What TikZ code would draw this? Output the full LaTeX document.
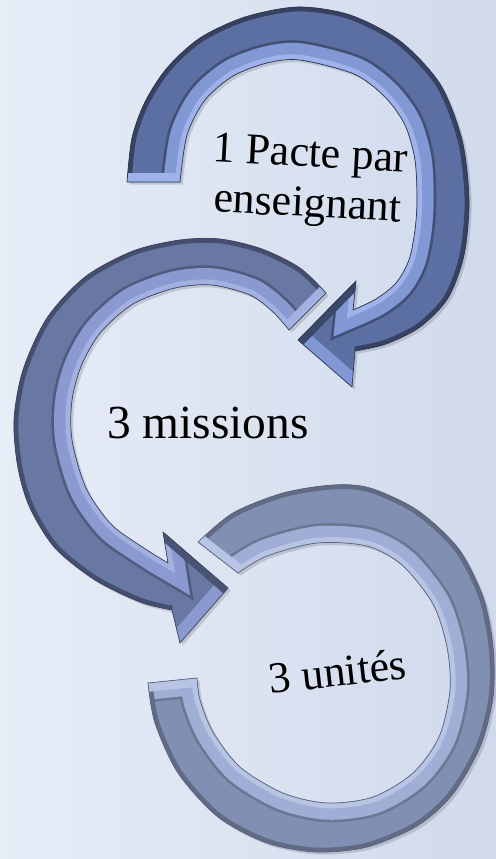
\documentclass[tikz,border=0pt]{standalone}
\usepackage{fontspec}
\setmainfont{Liberation Serif}

\definecolor{bgleft}{HTML}{E7EDF7}
\definecolor{bgright}{HTML}{D0DAEC}
\definecolor{pactebase}{HTML}{5B6FA2}
\definecolor{pactelight}{HTML}{8198D5}
\definecolor{pactelighter}{HTML}{9FB3EA}
\definecolor{pactedark}{HTML}{2E3752}
\definecolor{missionbase}{HTML}{6878A3}
\definecolor{missionlight}{HTML}{8A9AD0}
\definecolor{missionlighter}{HTML}{A2B1E0}
\definecolor{missiondark}{HTML}{3C4461}
\definecolor{unitebase}{HTML}{8190B2}
\definecolor{unitelight}{HTML}{A0AED6}
\definecolor{unitelighter}{HTML}{B8C4E4}
\definecolor{unitedark}{HTML}{5A627A}

% edges of the three arrows
\newcommand{\pacteouter}{plot[smooth] coordinates {(127,182) (132,138) (145,102) (167,68) (200,38) (245,17) (298,7) (350,15) (400,41) (440,84) (462,140) (469,200) (464,255) (448,298) (420,327) (386,344) (355,351)}}
\newcommand{\pacteinner}{-- plot[smooth] coordinates {(353,310) (376,299) (396,283) (409,260) (415,230) (417,200) (415,160) (405,125) (385,97) (354,74) (300,60) (267,63) (233,76) (205,100) (187,135) (180,182)}}
\newcommand{\pacteshape}{\pacteouter -- (352,387) -- (298,340) -- (356,281) \pacteinner -- cycle}

\newcommand{\missionouter}{plot[smooth] coordinates {(326,293) (300,268) (262,249) (220,239) (180,240) (133,251) (85,277) (47,318) (23,370) (14,420) (18,468) (30,508) (55,548) (95,580) (140,602) (172,610)}}
\newcommand{\missioninner}{-- plot[smooth] coordinates {(168,563) (147,550) (112,525) (86,488) (72,440) (72,400) (82,364) (101,332) (133,304) (175,288) (212,285) (250,295) (273,312) (289,330)}}
\newcommand{\missionshape}{\missionouter -- (180,643) -- (228,588) -- (163,532) \missioninner -- cycle}

\newcommand{\uniteouter}{plot[smooth] coordinates {(198,542) (233,513) (283,493) (333,485) (370,488) (417,510) (458,548) (483,597) (493,647) (493,697) (480,747) (452,795) (417,826) (367,847) (317,852) (267,843) (218,817) (178,773) (155,723) (148,683)}}
\newcommand{\uniteinner}{-- plot[smooth] coordinates {(197,678) (200,700) (213,732) (240,767) (283,793) (327,803) (373,797) (413,773) (439,737) (450,690) (447,647) (433,604) (402,565) (367,546) (317,543) (267,556) (238,573)}}
\newcommand{\uniteshape}{\uniteouter \uniteinner -- cycle}

\begin{document}
\begin{tikzpicture}[
        x=0.02cm, y=-0.02cm,
        shadowfill/.style={fill=black, opacity=0.14, xshift=1.5pt, yshift=-1.5pt},
        groove/.style={line width=22pt},
        bevel/.style={line width=19pt},
        rim/.style={line width=6pt},
        outerrim/.style={line width=5pt},
        endface/.style={line width=10pt},
        edgeline/.style={line width=0.4pt},
        arrowtext/.style={font=\fontsize{25}{28.5}\selectfont, align=center, inner sep=0pt, text=black}
    ]
        % Background
        \useasboundingbox (0,0) rectangle (496,859);
        \shade[left color=bgleft, right color=bgright] (0,0) rectangle (496,859);

        % Shadows
        \fill[shadowfill] \pacteshape;
        \fill[shadowfill] \missionshape;
        \fill[shadowfill] \uniteshape;

        % First arrow
        \begin{scope}
            \clip \pacteshape;
            \fill[pactebase] (0,0) rectangle (496,859);
            \draw[pactedark!55!pactebase, groove] (356,281) \pacteinner;
            \draw[pactelight, bevel] (356,281) \pacteinner;
            \draw[pactelighter, rim] (356,281) \pacteinner;
            \draw[pactedark!80!pactebase, outerrim] \pacteouter;
            \draw[pactelighter, endface] (127,182) -- (180,182);
            \draw[pactelight, line width=14pt] (352,387) -- (298,340);
            \draw[pactedark!70!pactebase, line width=8pt] (298,340) -- (356,281);
        \end{scope}
        \draw[pactedark, edgeline] \pacteshape;

        % Second arrow
        \begin{scope}
            \clip \missionshape;
            \fill[missionbase] (0,0) rectangle (496,859);
            \draw[missiondark!55!missionbase, groove] (163,532) \missioninner;
            \draw[missionlight, bevel] (163,532) \missioninner;
            \draw[missionlighter, rim] (163,532) \missioninner;
            \draw[missiondark!80!missionbase, outerrim] \missionouter;
            \draw[missionlighter, endface] (326,293) -- (289,330);
            \draw[missionlight, line width=14pt] (180,643) -- (228,588);
            \draw[missiondark!70!missionbase, line width=8pt] (228,588) -- (163,532);
        \end{scope}
        \draw[missiondark, edgeline] \missionshape;

        % Third arrow
        \begin{scope}
            \clip \uniteshape;
            \fill[unitebase] (0,0) rectangle (496,859);
            \draw[unitedark!55!unitebase, groove] (148,683) \uniteinner;
            \draw[unitelight, bevel] (148,683) \uniteinner;
            \draw[unitelighter, rim] (148,683) \uniteinner;
            \draw[unitedark!80!unitebase, outerrim] \uniteouter;
            \draw[unitelighter, endface] (198,542) -- (238,573);
            \draw[unitelighter, endface] (148,683) -- (197,678);
        \end{scope}
        \draw[unitedark, edgeline] \uniteshape;

        % Texts
        \node[arrowtext, rotate=-3] (pacte) at (309,182) {1 Pacte par\\enseignant};
        \node[arrowtext, font=\fontsize{27}{30}\selectfont, anchor=base] (missions) at (208,438) {3 missions};
        \node[arrowtext, rotate=6.5, anchor=base] (unites) at (339,686) {3 unités};
    \end{tikzpicture}
\end{document}
